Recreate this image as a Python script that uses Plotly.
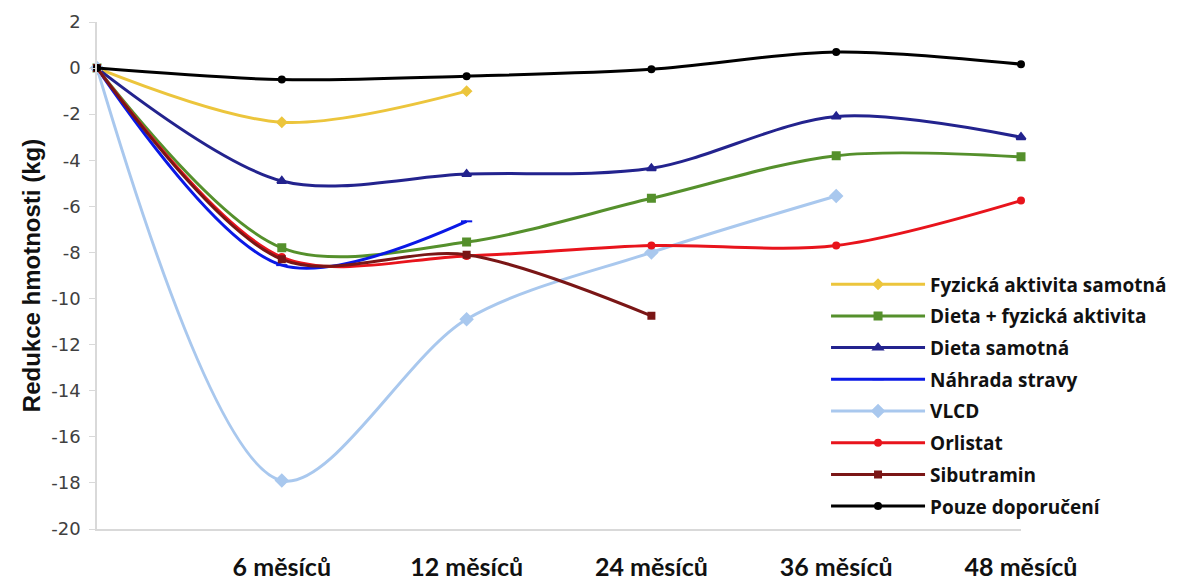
import plotly.graph_objects as go

x_pos = [0, 1, 2, 3, 4, 5]
x_tick_labels = ["6 měsíců", "12 měsíců", "24 měsíců", "36 měsíců", "48 měsíců"]
y_ticks = [2, 0, -2, -4, -6, -8, -10, -12, -14, -16, -18, -20]

names = ["Fyzická aktivita samotná", "Dieta + fyzická aktivita", "Dieta samotná",
         "Náhrada stravy", "VLCD", "Orlistat", "Sibutramin", "Pouze doporučení"]

fyz = [0, -2.35, -1.0]
dieta_fyz = [0, -7.8, -7.55, -5.65, -3.8, -3.85]
dieta = [0, -4.9, -4.6, -4.35, -2.1, -3.0]
nahrada = [0, -8.55, -6.65]
vlcd = [0, -17.9, -10.9, -8.0, -5.55]
orlistat = [0, -8.2, -8.15, -7.7, -7.7, -5.75]
sibutramin = [0, -8.3, -8.1, -10.75]
doporuceni = [0, -0.5, -0.35, -0.05, 0.7, 0.17]

series = [fyz, dieta_fyz, dieta, nahrada, vlcd, orlistat, sibutramin, doporuceni]
colors = ["#ecc53c", "#55902c", "#23238e", "#0a18e6", "#a9c8ee", "#e8141c", "#7a1616", "#000000"]
symbols = ["diamond", "square", "triangle-up", "line-ew", "diamond", "circle", "square", "circle"]
sizes = [7, 7, 8, 8, 9, 6, 6, 6]

fig = go.Figure()
for i, (name, vals, c, s, sz) in enumerate(zip(names, series, colors, symbols, sizes)):
    fig.add_trace(go.Scatter(
        x=x_pos[:len(vals)], y=vals, name=name, mode="lines+markers",
        legendgroup=f"g{i}",
        line=dict(color=c, width=3, shape="spline", smoothing=0.9),
        marker=dict(color=c, symbol=s, size=sz, line=dict(color=c, width=2)),
        cliponaxis=False,
    ))

fig.update_layout(
    width=1184, height=583,
    margin=dict(l=97, r=161, t=22, b=54),
    paper_bgcolor="white", plot_bgcolor="white",
    showlegend=True,
    legend=dict(x=0.789, y=0.52, xanchor="left", yanchor="top",
                font=dict(family="Open Sans", size=19, color="#111111", weight="bold"),
                bgcolor="rgba(0,0,0,0)", itemwidth=94, tracegroupgap=4),
    xaxis=dict(range=[0, 5], tickvals=x_pos[1:], ticktext=x_tick_labels,
               showgrid=False, zeroline=False, showline=True, linecolor="#d9d9d9", linewidth=2,
               ticks="", ticklabelstandoff=15, automargin=False,
               tickfont=dict(family="Lato", size=25, color="#111111", weight="bold")),
    yaxis=dict(range=[-20, 2], tickvals=y_ticks, ticktext=[str(v) for v in y_ticks],
               showgrid=False, zeroline=False, automargin=False,
               showline=True, linecolor="#d9d9d9", linewidth=1.5,
               ticks="outside", ticklen=6, tickcolor="#d9d9d9", ticklabelstandoff=5,
               tickfont=dict(family="DejaVu Sans", size=18, color="#404040"),
               title=dict(text="<b>Redukce hmotnosti (kg)</b>", standoff=4,
                          font=dict(family="Liberation Sans", size=24, color="#111111"))),
)

fig.write_html("out.html", config={"displayModeBar": False},
               post_script="document.body.style.margin='0';")
